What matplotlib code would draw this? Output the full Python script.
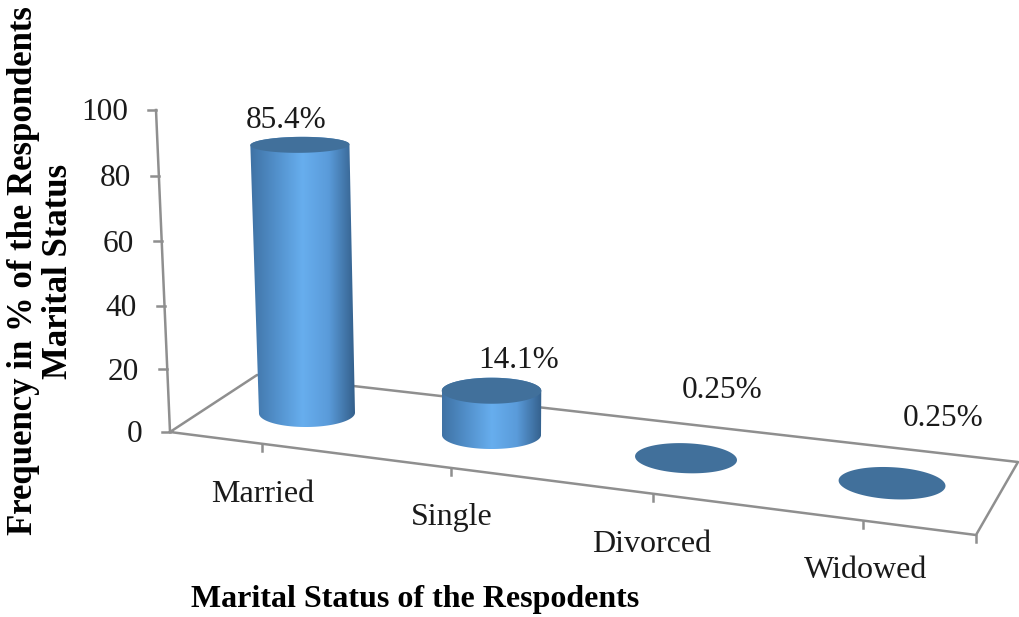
import numpy as np
import matplotlib
matplotlib.use('Agg')
import matplotlib.pyplot as plt
from matplotlib.colors import LinearSegmentedColormap
from matplotlib.patches import Polygon
plt.rcParams['font.family'] = ['Liberation Serif', 'DejaVu Serif']

categories = ['Married', 'Single', 'Divorced', 'Widowed']
values = [85.4, 14.1, 0.25, 0.25]
value_labels = ['85.4%', '14.1%', '0.25%', '0.25%']
y_ticks = [0, 20, 40, 60, 80, 100]

# layout of the fake 3d floor, in pixels of the picture
base_x = [307, 491.5, 686, 892]
base_y = [413, 435, 459, 484]
radius_x = [48, 49.5, 51, 53.5]
radius_y = [14, 14, 15, 16]
tilt = [-0.5, 0, 2.3, 3.2]
label_pos = [(286, 120), (519, 360), (722, 391), (943, 418)]
cat_pos = [(263, 494), (452, 517), (652, 545), (866, 571)]
y_tick_px = [432, 369, 306, 241, 176, 110]
front_ticks = [262, 451, 653, 863, 976]
PX_PER_UNIT = 3.14
AXIS = '#8f8f8f'
TOP = '#41709b'

fig = plt.figure(figsize=(10.19, 6.17), dpi=100)
ax = fig.add_axes([0, 0, 1, 1])

shade = LinearSegmentedColormap.from_list(
    'cyl', ['#3f72a4', '#5290cb', '#67aeee', '#5a9bda', '#34608c'])


def ellipse(cx, cy, rx, ry, ang, t):
    a = np.radians(ang)
    return (cx + rx*np.cos(t)*np.cos(a) - ry*np.sin(t)*np.sin(a),
            cy + rx*np.cos(t)*np.sin(a) + ry*np.sin(t)*np.cos(a))


# floor and axes
ax.plot([156, 170, 976, 1018, 257, 170], [110, 432, 535, 462, 375, 432], color=AXIS, lw=1.8, zorder=1)
for v, py in zip(y_ticks, y_tick_px):
    px = 170 - 14*(432-py)/322
    ax.plot([px-8, px], [py, py], color=AXIS, lw=1.8, zorder=1)
    ax.text(px-28, py+3, str(v), ha='right', va='center', fontsize=22.5, color='#1a1a1a')
for px in front_ticks:
    py = 432 + (px-170)*103/806
    ax.plot([px, px], [py, py+7], color=AXIS, lw=1.8, zorder=1)

# cylinders
for i, v in enumerate(values):
    h = v*PX_PER_UNIT
    top_x = base_x[i] + (base_x[i]-490)*1.45e-4*h
    top_y = base_y[i] - h
    top_rx = radius_x[i]*(1 + 1.2e-4*h)
    top_ry = radius_y[i]*(1 - 0.0016*h)
    t = np.linspace(0, 2*np.pi, 200)
    if v > 1:
        xb, yb = ellipse(base_x[i], base_y[i], radius_x[i], radius_y[i], tilt[i], t[:100])
        xt, yt = ellipse(top_x, top_y, top_rx, top_ry, tilt[i], t[100:])
        body = Polygon(np.column_stack([np.r_[xb, xt], np.r_[yb, yt]]), closed=True,
                       transform=ax.transData, fc='none', ec='none')
        ax.add_patch(body)
        x0 = min(xb.min(), xt.min())
        x1 = max(xb.max(), xt.max())
        im = ax.imshow(np.linspace(0, 1, 256).reshape(1, -1), cmap=shade, aspect='auto',
                       extent=[x0, x1, yb.max(), yt.min()], zorder=2)
        im.set_clip_path(body)
    xt, yt = ellipse(top_x, top_y, top_rx, top_ry, tilt[i], t)
    ax.fill(xt, yt, color=TOP, zorder=3, lw=0)
    ax.text(label_pos[i][0], label_pos[i][1], value_labels[i], ha='center', va='center',
            fontsize=22.5, color='#1a1a1a', zorder=4)
    ax.text(cat_pos[i][0], cat_pos[i][1], categories[i], ha='center', va='center',
            fontsize=23, color='#1a1a1a')

ax.text(415, 599, 'Marital Status of the Respodents', ha='center', va='center',
        fontsize=23, fontweight='bold', color='black')
ax.text(24, 271, 'Frequency in % of the Respondents', rotation=90, ha='center', va='center',
        fontsize=25, fontweight='bold', color='black')
ax.text(59, 271, 'Marital Status', rotation=90, ha='center', va='center',
        fontsize=25, fontweight='bold', color='black')

ax.set_xlim(0, 1019)
ax.set_ylim(617, 0)
ax.axis('off')
fig.savefig('out.png', dpi=100)
